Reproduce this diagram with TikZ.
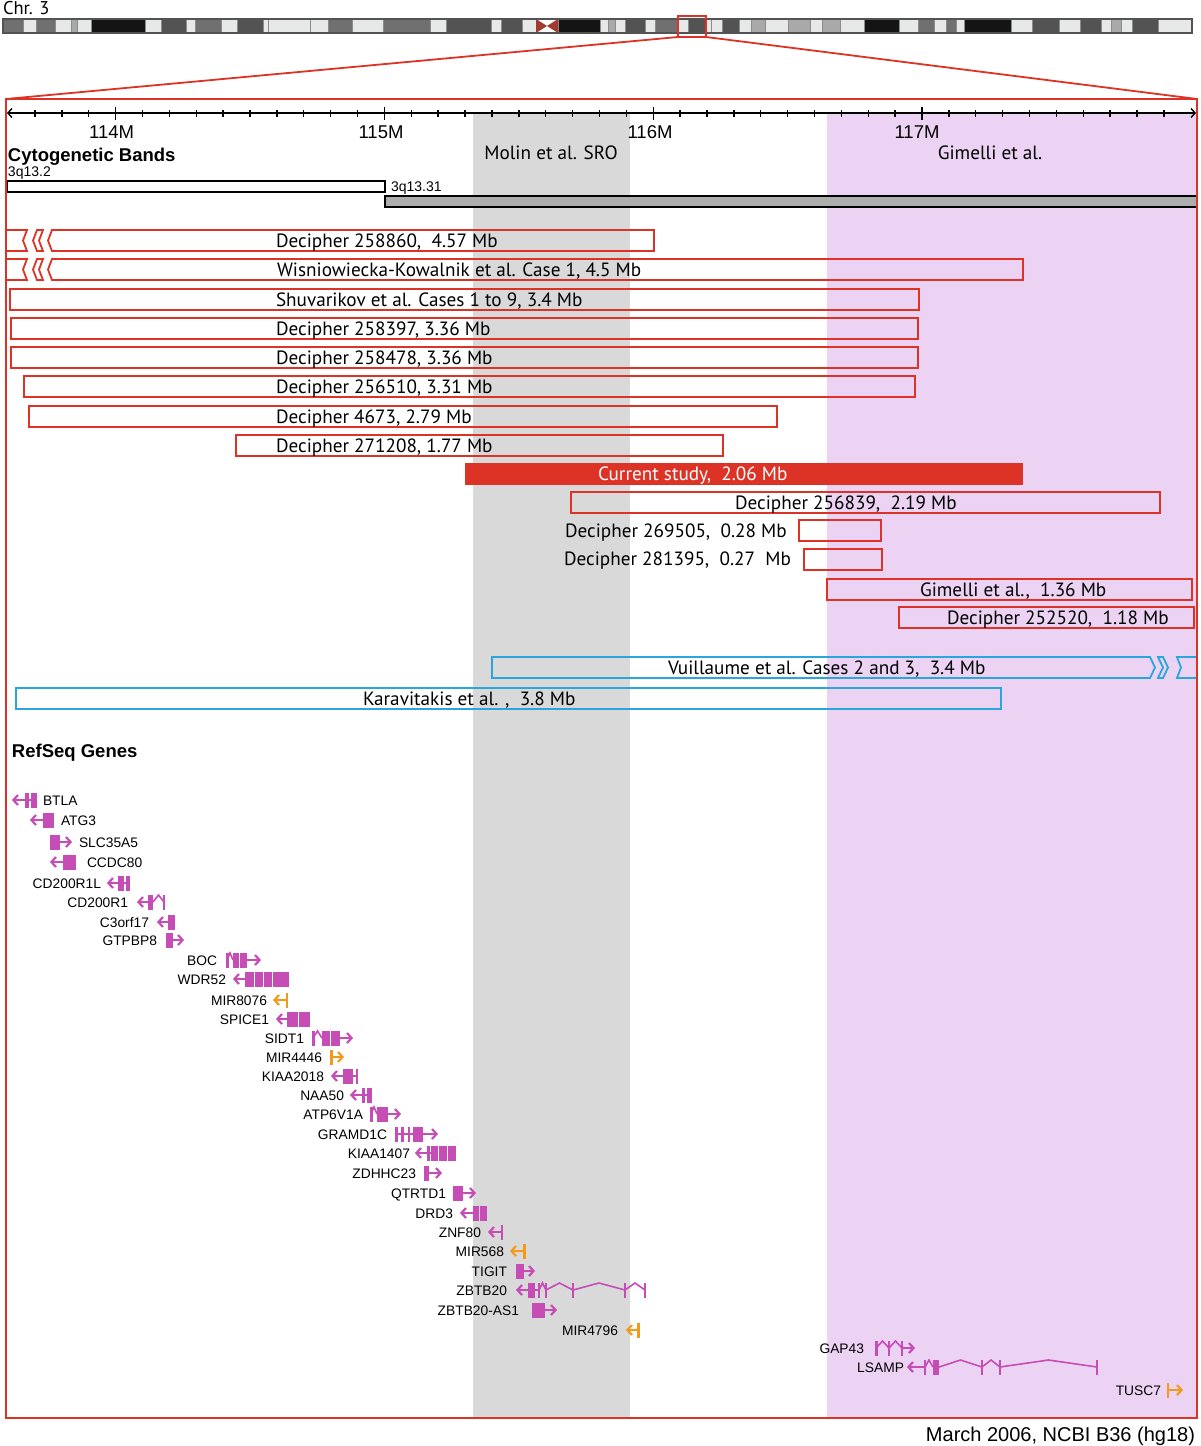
\documentclass[tikz,border=0pt]{standalone}
\usepackage{fontspec}
\setmainfont{Liberation Sans}
\newfontfamily\myr{PT Sans}
\usetikzlibrary{arrows.meta}
\definecolor{redc}{HTML}{DD3326}
\definecolor{bluec}{HTML}{2BA6DD}
\definecolor{genec}{HTML}{C64DB6}
\definecolor{orangec}{HTML}{F29A1C}
\definecolor{grayreg}{HTML}{D9D9D9}
\definecolor{purpreg}{HTML}{ECD3F4}
\definecolor{cytog}{HTML}{ADADAD}
\definecolor{bL}{HTML}{E7E8E8}
\definecolor{bG}{HTML}{A9A9A9}
\definecolor{bM}{HTML}{707070}
\definecolor{bD}{HTML}{535353}
\definecolor{bK}{HTML}{141414}
\definecolor{bS}{HTML}{8C8C8C}
\definecolor{centc}{HTML}{A23A30}
\newcommand\gcl{genec}
\newcommand\geneL[3]{\draw[\gcl,line width=2.2pt,-{Straight Barb[length=4.5pt,width=10pt]}] (#3,#1) -- (#2,#1);}
\newcommand\geneR[3]{\draw[\gcl,line width=2.2pt,-{Straight Barb[length=4.5pt,width=10pt]}] (#2,#1) -- (#3,#1);}
\newcommand\geneBox[3]{\fill[\gcl] (#2,#1-7.5) rectangle (#3,#1+7.5);}
\newcommand\geneBar[2]{\fill[\gcl] (#2-1.3,#1-7.5) rectangle (#2+1.3,#1+7.5);}
\newcommand\geneIn[3]{\draw[\gcl,line width=1.6pt] (#2,#1) -- ({(#2+#3)/2},#1-7) -- (#3,#1);}
\newcommand\geneLn[3]{\draw[\gcl,line width=2pt] (#2,#1) -- (#3,#1);}
\begin{document}
\begin{tikzpicture}[x=1pt,y=-1pt,
  txt/.style={inner sep=0pt,outer sep=0pt},
  axl/.style={txt,font=\fontsize{18.5}{20}\selectfont},
  barl/.style={txt,font=\myr\fontsize{19.2}{21}\selectfont},
  glab/.style={txt,text=black,font=\fontsize{13.8}{15}\selectfont},
  redbar/.style={draw=redc,line width=1.8pt},
  bluebar/.style={draw=bluec,line width=1.8pt},
  tick/.style={line width=1.4pt,black}]
\useasboundingbox (0,0) rectangle (1200,1446);
\fill[white] (0,0) rectangle (1200,1446);
% chromosome ideogram
\node[txt,anchor=base west,font=\myr\fontsize{18.5}{20}\selectfont] (chr) at (3,14.5) {Chr. 3};
\foreach \a/\b/\c in {3/23/bM,23/36/bL,36/55/bM,55/71/bL,71/77/bG,77/91/bL,91/145/bK,145/161/bL,161/186/bD,186/195/bL,195/221/bM,221/237/bL,237/263/bD,263/268/bL,268/310/bL,310/328/bL,328/352/bM,352/383/bL,383/430/bM,430/446/bL,446/491/bD,491/501/bL,501/522/bD,522/536/bL,558/600/bK,600/608/bL,608/615/bG,615/625/bL,625/645/bD,645/655/bL,655/678/bM,678/688/bL,688/706/bD,706/711/bL,711/722/bL,722/739/bD,739/751/bL,751/765/bG,765/788/bL,788/810/bG,810/822/bL,822/840/bG,840/864/bL,864/899/bK,899/918/bL,918/934/bM,934/946/bL,946/956/bM,956/964/bL,964/1011/bK,1011/1032/bL,1032/1059/bD,1059/1080/bL,1080/1101/bD,1101/1111/bL,1111/1121/bG,1121/1132/bL,1132/1158/bD,1158/1192/bL}
  {\filldraw[fill=\c,draw=bS,line width=0.4pt] (\a,19) rectangle (\b,33);}
\fill[centc] (536,19) -- (547,26) -- (536,33) -- cycle;
\fill[centc] (558,19) -- (547,26) -- (558,33) -- cycle;
\draw[line width=1.2pt,draw=bD] (3,19) rectangle (1192,33);
\draw[redc,line width=2pt] (678,15.5) rectangle (706,37);
% shaded regions
\fill[grayreg] (473,113) rectangle (630,1418);
\fill[purpreg] (827,113) rectangle (1197,1418);
% axis
\draw[line width=1.4pt,{Straight Barb[length=4pt,width=9pt]}-{Straight Barb[length=4pt,width=9pt]}] (7,113) -- (1196,113);
\foreach \k in {-3,...,39}{
  \pgfmathsetmacro\xx{115.6+26.88*\k}
  \pgfmathtruncatemacro\mm{mod(\k+30,10)}
  \ifnum\mm=0 \draw[tick] (\xx,107) -- (\xx,120); \else \draw[tick] (\xx,109.5) -- (\xx,116.5); \fi}
\node[axl,anchor=base] (m114) at (111.6,138.6) {114M};
\node[axl,anchor=base] (m115) at (381,138.6) {115M};
\node[axl,anchor=base] (m116) at (650,138.6) {116M};
\node[axl,anchor=base] (m117) at (917,138.6) {117M};
\node[barl,anchor=base] (molin) at (551,159.6) {Molin et al. SRO};
\node[barl,anchor=base] (gim) at (990,159.6) {Gimelli et al.};
% cytogenetic bands
\node[txt,anchor=base west,font=\bfseries\fontsize{18.5}{20}\selectfont] (cyto) at (8,161.5) {Cytogenetic Bands};
\node[txt,anchor=base west,font=\fontsize{14}{15}\selectfont] (q132) at (8,176) {3q13.2};
\node[txt,anchor=base west,font=\fontsize{14}{15}\selectfont] (q1331) at (391,191) {3q13.31};
\draw[fill=white,line width=1.5pt] (7,181) rectangle (385,192);
\draw[fill=cytog,line width=1.5pt] (385,196) rectangle (1197,207);
% bars
\draw[redbar] (6,230) -- (27,230) -- (23,240.5) -- (27,251) -- (6,251);
\draw[redbar] (37,230) -- (43,230) -- (39,240.5) -- (43,251) -- (37,251) -- (33,240.5) -- cycle;
\draw[redbar] (654,230) -- (52,230) -- (48,240.5) -- (52,251) -- (654,251) -- cycle;
\node[barl,anchor=base west] (b1) at (276,247.2) {Decipher 258860,\ \ 4.57 Mb};
\draw[redbar] (6,259) -- (27,259) -- (23,269.5) -- (27,280) -- (6,280);
\draw[redbar] (37,259) -- (43,259) -- (39,269.5) -- (43,280) -- (37,280) -- (33,269.5) -- cycle;
\draw[redbar] (1023,259) -- (52,259) -- (48,269.5) -- (52,280) -- (1023,280) -- cycle;
\node[barl,anchor=base west] (b2) at (277,276.2) {Wisniowiecka-Kowalnik et al. Case 1, 4.5 Mb};
\draw[redbar] (10,289) rectangle (919,310);
\node[barl,anchor=base west] (b3) at (276,306.2) {Shuvarikov et al. Cases 1 to 9, 3.4 Mb};
\draw[redbar] (11,318) rectangle (918,339);
\node[barl,anchor=base west] (b4) at (276,335.2) {Decipher 258397, 3.36 Mb};
\draw[redbar] (11,347) rectangle (918,368);
\node[barl,anchor=base west] (b5) at (276,364.2) {Decipher 258478, 3.36 Mb};
\draw[redbar] (24,376) rectangle (915,397);
\node[barl,anchor=base west] (b6) at (276,393.2) {Decipher 256510, 3.31 Mb};
\draw[redbar] (29,406) rectangle (777,427);
\node[barl,anchor=base west] (b7) at (276,423.2) {Decipher 4673, 2.79 Mb};
\draw[redbar] (236,435) rectangle (723,456);
\node[barl,anchor=base west] (b8) at (276,452.2) {Decipher 271208, 1.77 Mb};
\fill[redc] (465,463) rectangle (1023,485);
\node[barl,anchor=base west,text=white] (b9) at (598,480.7) {Current study,\ \ 2.06 Mb};
\draw[redbar] (571,492) rectangle (1160,513);
\node[barl,anchor=base west] (b10) at (735,509.2) {Decipher 256839,\ \ 2.19 Mb};
\draw[redbar] (799,520) rectangle (881,541);
\node[barl,anchor=base west] (b11) at (565,537.7) {Decipher 269505,\ \ 0.28 Mb};
\draw[redbar] (804,549) rectangle (882,570);
\node[barl,anchor=base west] (b12) at (564,565.7) {Decipher 281395,\ \ 0.27\ \ Mb};
\draw[redbar] (827,579) rectangle (1192,600);
\node[barl,anchor=base west] (b13) at (920,596.7) {Gimelli et al.,\ \ 1.36 Mb};
\draw[redbar] (899,607) rectangle (1194,628);
\node[barl,anchor=base west] (b14) at (947,624.7) {Decipher 252520,\ \ 1.18 Mb};
\draw[bluebar] (492,657) -- (1150,657) -- (1155,667.5) -- (1150,678) -- (492,678) -- cycle;
\draw[bluebar] (1158,657) -- (1163,657) -- (1168,667.5) -- (1163,678) -- (1158,678) -- (1163,667.5) -- cycle;
\draw[bluebar] (1197,657) -- (1177,657) -- (1181,667.5) -- (1177,678) -- (1197,678);
\node[barl,anchor=base west] (b15) at (668,674.7) {Vuillaume et al. Cases 2 and 3,\ \ 3.4 Mb};
\draw[bluebar] (16,688) rectangle (1001,709);
\node[barl,anchor=base west] (b16) at (363,705.7) {Karavitakis et al. ,\ \ 3.8 Mb};
% genes
\node[txt,anchor=base west,font=\bfseries\fontsize{18.5}{20}\selectfont] (refseq) at (12,757.5) {RefSeq Genes};
% BTLA
\geneL{800}{12}{27}\geneLn{800}{27}{36}\geneBox{800}{25}{29.3}\geneBox{800}{30.7}{36.5}
\node[glab,anchor=base west] (gBTLA) at (43,805) {BTLA};
\geneL{820}{30}{44}\geneBox{820}{43}{54}
\node[glab,anchor=base west] (gATG3) at (61,825) {ATG3};
\geneBox{842}{50}{60}\geneR{842}{59}{72}
\node[glab,anchor=base west] (gSLC) at (79,847) {SLC35A5};
\geneL{862}{50}{64}\geneBox{862}{63}{76}
\node[glab,anchor=base west] (gCCDC) at (87,867) {CCDC80};
\geneL{883}{107}{119}\geneLn{883}{119}{130}\geneBox{883}{118}{124}\geneBox{883}{126}{130}
\node[glab,anchor=base east] (gCD1L) at (101,888) {CD200R1L};
\geneL{902}{137}{149}\geneBox{902}{148}{153}\geneIn{902}{153}{164}\geneBar{902}{164}
\node[glab,anchor=base east] (gCD1) at (128,907) {CD200R1};
\geneL{922}{157}{169}\geneBox{922}{168}{175}
\node[glab,anchor=base east] (gC3) at (149,927) {C3orf17};
\geneBox{940}{166}{173}\geneR{940}{172}{184}
\node[glab,anchor=base east] (gGTP) at (157,945) {GTPBP8};
\geneBar{960}{227.5}\geneIn{960}{227}{233}\geneBox{960}{233}{239}\geneBox{960}{240}{247}\geneR{960}{246}{261}
\node[glab,anchor=base east] (gBOC) at (217,965) {BOC};
\geneL{979}{233}{246}\geneBox{979}{245}{254}\geneBox{979}{255}{263}\geneBox{979}{264}{272}\geneBox{979}{273}{289}
\node[glab,anchor=base east] (gWDR) at (226,984) {WDR52};
\renewcommand\gcl{orangec}
\geneL{1000}{273}{287}\geneBar{1000}{287}
\node[glab,anchor=base east] (gM8076) at (267,1005) {MIR8076};
\renewcommand\gcl{genec}
\geneL{1019}{276}{288}\geneBox{1019}{287}{298}\geneBox{1019}{299}{310}
\node[glab,anchor=base east] (gSPICE) at (269,1024) {SPICE1};
\geneBar{1038}{313.5}\geneIn{1038}{313}{322}\geneBox{1038}{322}{330}\geneBox{1038}{331}{340}\geneR{1038}{339}{353}
\node[glab,anchor=base east] (gSIDT) at (304,1043) {SIDT1};
\renewcommand\gcl{orangec}
\geneBar{1057}{331.5}\geneR{1057}{331}{344}
\node[glab,anchor=base east] (gM4446) at (322,1062) {MIR4446};
\renewcommand\gcl{genec}
\geneL{1076}{331}{344}\geneBox{1076}{343}{353}\geneLn{1076}{353}{357}\geneBar{1076}{357}
\node[glab,anchor=base east] (gKIAA2018) at (324,1081) {KIAA2018};
\geneL{1095}{350}{363}\geneBar{1095}{363.5}\geneLn{1095}{363}{368}\geneBox{1095}{367}{372}
\node[glab,anchor=base east] (gNAA) at (344,1100) {NAA50};
\geneBar{1114}{371.5}\geneIn{1114}{371}{377}\geneBox{1114}{377}{388}\geneR{1114}{387}{401}
\node[glab,anchor=base east] (gATP) at (363,1119) {ATP6V1A};
\geneLn{1134}{395}{414}\geneBar{1134}{396.5}\geneBar{1134}{402.5}\geneBar{1134}{409}\geneBox{1134}{413}{423}\geneR{1134}{422}{438}
\node[glab,anchor=base east] (gGRAM) at (387,1139) {GRAMD1C};
\geneL{1153}{415}{429}\geneBar{1153}{428.5}\geneLn{1153}{428}{432}\geneBox{1153}{431}{438}\geneBox{1153}{439}{447}\geneBox{1153}{448}{456}
\node[glab,anchor=base east] (gKIAA1407) at (410,1158) {KIAA1407};
\geneBox{1173}{424}{429}\geneR{1173}{428}{442}
\node[glab,anchor=base east] (gZDH) at (416,1178) {ZDHHC23};
\geneBox{1193}{453}{463}\geneR{1193}{462}{476}
\node[glab,anchor=base east] (gQTR) at (446,1198) {QTRTD1};
\geneL{1213}{460}{474}\geneBox{1213}{473}{479}\geneBox{1213}{480}{487}
\node[glab,anchor=base east] (gDRD) at (453,1218) {DRD3};
\geneL{1232}{488}{502}\geneBar{1232}{502}
\node[glab,anchor=base east] (gZNF) at (481,1237) {ZNF80};
\renewcommand\gcl{orangec}
\geneL{1251}{510}{524}\geneBar{1251}{524.5}
\node[glab,anchor=base east] (gM568) at (504,1256) {MIR568};
\renewcommand\gcl{genec}
\geneBox{1271}{516}{524}\geneR{1271}{523}{535}
\node[glab,anchor=base east] (gTIG) at (507,1276) {TIGIT};
\geneL{1290}{516}{529}\geneBox{1290}{528}{535}\geneLn{1290}{535}{539}\geneBar{1290}{539}\geneIn{1290}{539}{546}\geneBar{1290}{546}\geneIn{1290}{546}{573}\geneBar{1290}{573}\geneIn{1290}{573}{625}\geneBar{1290}{625}\geneIn{1290}{625}{645}\geneBar{1290}{645}
\node[glab,anchor=base east] (gZBTB) at (507,1295) {ZBTB20};
\geneBox{1310}{532}{545}\geneR{1310}{544}{557}
\node[glab,anchor=base east] (gZBTBAS) at (519,1315) {ZBTB20-AS1};
\renewcommand\gcl{orangec}
\geneL{1330}{626}{638}\geneBar{1330}{638.5}
\node[glab,anchor=base east] (gM4796) at (618,1335) {MIR4796};
\renewcommand\gcl{genec}
\geneBar{1348}{876.5}\geneIn{1348}{876}{889}\geneBar{1348}{889}\geneIn{1348}{889}{902}\geneBar{1348}{902}\geneR{1348}{902}{915}
\node[glab,anchor=base east] (gGAP) at (864,1353) {GAP43};
\geneL{1367}{907}{924}\geneBar{1367}{925}\geneIn{1367}{925}{933}\geneBox{1367}{933}{939}\geneIn{1367}{939}{982}\geneBar{1367}{982}\geneIn{1367}{982}{1000}\geneBar{1367}{1000}\geneIn{1367}{1000}{1097}\geneBar{1367}{1097}
\node[glab,anchor=base east] (gLSAMP) at (904,1372) {LSAMP};
\renewcommand\gcl{orangec}
\geneBar{1390}{1168}\geneR{1390}{1168}{1183}
\node[glab,anchor=base east] (gTUSC) at (1161,1395) {TUSC7};
% zoom frame
\draw[redc,line width=1.8pt] (678,37) -- (6,99);
\draw[redc,line width=1.8pt] (706,37) -- (1197,99);
\draw[redc,line width=2pt] (6,99) rectangle (1197,1418);
\node[txt,anchor=base east,font=\fontsize{20}{22}\selectfont] (foot) at (1195,1441) {March 2006, NCBI B36 (hg18)};
\end{tikzpicture}
\end{document}
